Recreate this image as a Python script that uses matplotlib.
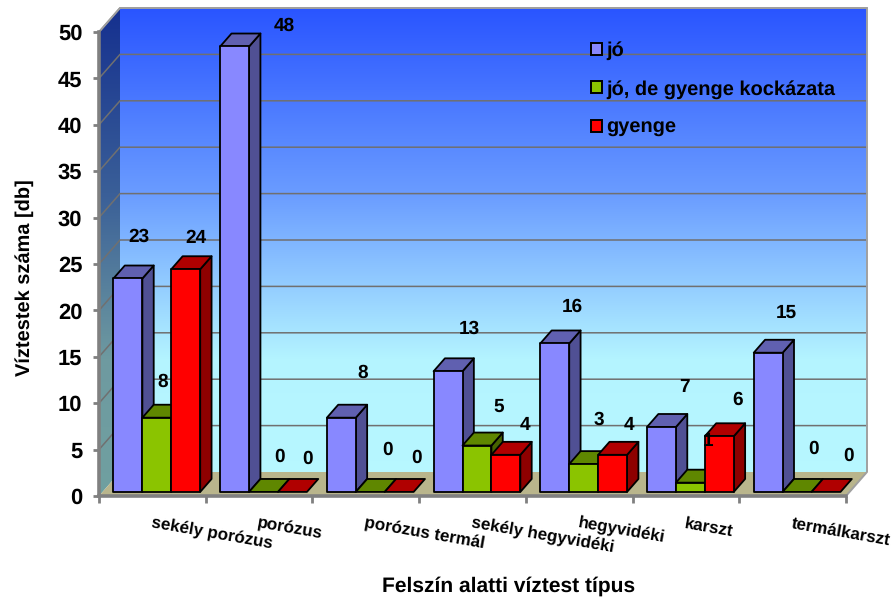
import numpy as np
import matplotlib
matplotlib.use("Agg")
import matplotlib.pyplot as plt
from matplotlib.colors import LinearSegmentedColormap
from matplotlib.patches import Patch, Polygon

categories = ["sekély porózus", "porózus", "porózus termál", "sekély hegyvidéki",
              "hegyvidéki", "karszt", "termálkarszt"]
series_names = ["jó", "jó, de gyenge kockázata", "gyenge"]
jo = [23, 48, 8, 13, 16, 7, 15]
jo_de = [8, 0, 0, 5, 3, 1, 0]
gyenge = [24, 0, 0, 4, 4, 6, 0]
y_ticks = [0, 5, 10, 15, 20, 25, 30, 35, 40, 45, 50]

# excel moved the data labels by hand, offsets in pixels from the bar front top
jo_label_off = [(11, 42), (50, 21), (21, 45), (21, 42), (18, 37), (23, 40), (18, 40)]
jo_de_label_off = [(6, 36), (16, 35), (17, 42), (22, 39), (15, 44), (18, 42), (16, 43)]
gyenge_label_off = [(10, 31), (15, 33), (17, 34), (19, 30), (16, 30), (18, 36), (22, 36)]

front_cols = ["#8888FF", "#8BC400", "#FF0000"]
top_cols = ["#6060B0", "#5F8700", "#B00000"]
side_cols = ["#505094", "#466400", "#8E0000"]

plt.rcParams["font.family"] = ["Liberation Sans", "DejaVu Sans"]
plt.rcParams["font.weight"] = "bold"
plt.rcParams["axes.labelweight"] = "bold"
plt.rcParams["text.hinting"] = "none"
plt.rcParams["text.hinting_factor"] = 1

fig = plt.figure(figsize=(8.96, 6.01), dpi=100)
ax = fig.add_axes([99 / 896, 1 - 496 / 601, 747 / 896, 464 / 601])

# 3d depth of the box, in data units
DX = 21 / (747 / 7)
DY = 24 / (464 / 50)
N = len(categories)


def proj(x, y, d):
    return (x + d * DX, y + d * DY)


def gradient(poly_pts, stops, ymin, ymax):
    cmap = LinearSegmentedColormap.from_list("g", stops)
    poly = Polygon(poly_pts, transform=ax.transData)
    g = np.linspace(0, 1, 256).reshape(-1, 1)
    im = ax.imshow(g, cmap=cmap, aspect="auto", origin="upper",
                   extent=(-0.2, N + 0.5, ymin, ymax), zorder=0.5)
    im.set_clip_path(poly)
    im.set_clip_box(fig.bbox)


wall_stops = [(0, "#2A55FF"), (0.38, "#6A9CFF"), (0.72, "#B4F4FF"), (1, "#B8F8FF")]
left_stops = [(0, "#15308F"), (0.38, "#3A5F98"), (0.72, "#6E9AA0"), (1, "#70A0A0")]

back = [proj(0, 0, 1), proj(N, 0, 1), proj(N, 50, 1), proj(0, 50, 1)]
left = [proj(0, 0, 0), proj(0, 0, 1), proj(0, 50, 1), proj(0, 50, 0)]
floor = [proj(0, 0, 0), proj(N, 0, 0), proj(N, 0, 1), proj(0, 0, 1)]

gradient(back, wall_stops, 0, 50 + DY)
gradient(left, left_stops, 0, 50 + DY)
ax.add_patch(Polygon(floor, facecolor="#B9B58C", edgecolor="none", zorder=1, clip_on=False))

grid_col = "#707070"
for v in y_ticks[1:]:
    pts = [proj(0, v, 0), proj(0, v, 1), proj(N, v, 1)]
    ax.plot(*zip(*pts), color=grid_col, lw=1.1, zorder=1, clip_on=False)
edge = [proj(0, 50, 0), proj(0, 50, 1), proj(N, 50, 1), proj(N, 0, 1), proj(N, 0, 0)]
ax.plot(*zip(*edge), color="#A0A0A0", lw=1.4, zorder=1, clip_on=False)

# bars, left to right so the later ones cover the earlier sides
GAP = 0.102
W = 0.271
D0, D1 = 0.17, 0.71
series = [jo, jo_de, gyenge]
offsets = [jo_label_off, jo_de_label_off, gyenge_label_off]
z = 2
for i in range(N):
    for s in range(3):
        v = series[s][i]
        x0 = i + GAP + s * W
        x1 = x0 + W
        side = [proj(x1, 0, D0), proj(x1, 0, D1), proj(x1, v, D1), proj(x1, v, D0)]
        top = [proj(x0, v, D0), proj(x1, v, D0), proj(x1, v, D1), proj(x0, v, D1)]
        front = [proj(x0, 0, D0), proj(x1, 0, D0), proj(x1, v, D0), proj(x0, v, D0)]
        for pts, col in [(side, side_cols[s]), (top, top_cols[s]), (front, front_cols[s])]:
            if v == 0 and col != top_cols[s]:
                continue
            ax.add_patch(Polygon(pts, facecolor=col, edgecolor="black", lw=1.3,
                                 joinstyle="round", zorder=z, clip_on=False))
        z += 0.01

for s in range(3):
    for i in range(N):
        v = series[s][i]
        xc = i + GAP + (s + 0.5) * W
        ax.annotate(str(v), xy=proj(xc, v, D0), xytext=offsets[s][i],
                    textcoords="offset pixels", ha="center", va="center",
                    fontsize=14, color="black", zorder=10, annotation_clip=False)

ax.set_xlim(0, N)
ax.set_ylim(0, 50)
ax.patch.set_visible(False)
for name in ["top", "right"]:
    ax.spines[name].set_visible(False)
for name in ["left", "bottom"]:
    ax.spines[name].set_color("#808080")
    ax.spines[name].set_linewidth(2.6)
    ax.spines[name].set_zorder(1.5)

ax.set_yticks(y_ticks)
ax.tick_params(axis="y", labelsize=15.5, length=4, width=2, color="#808080", pad=8)
ax.set_xticks(range(N + 1))
ax.set_xticklabels([])
ax.set_xticks([i + 0.5 for i in range(N)], minor=True)
ax.set_xticklabels(categories, minor=True, rotation=-10, ha="left", va="top",
                   rotation_mode="anchor", fontsize=12)
ax.tick_params(axis="x", which="major", length=5, width=2, color="#808080")
ax.tick_params(axis="x", which="minor", length=0, pad=14)
ax.set_xlabel("Felszín alatti víztest típus", fontsize=15)
ax.xaxis.set_label_coords((509 - 99) / 747, (496 - 586) / 464, ax.transAxes)
ax.xaxis.label.set_va("center")
ax.set_ylabel("Víztestek száma [db]", fontsize=14.5)
ax.yaxis.set_label_coords((25 - 99) / 747, (496 - 278) / 464, ax.transAxes)
ax.yaxis.label.set_va("center")

handles = [Patch(facecolor=c, edgecolor="black", lw=1.4) for c in front_cols]
leg = ax.legend(handles, series_names, loc="upper left", frameon=False, fontsize=14.4,
                bbox_to_anchor=(591 / 896, 1 - 41 / 601), bbox_transform=fig.transFigure,
                handlelength=0.55, handleheight=0.55, handletextpad=0.2,
                labelspacing=1.0, borderpad=0, borderaxespad=0)
leg.set_zorder(11)

fig.savefig("out.png", dpi=100)
